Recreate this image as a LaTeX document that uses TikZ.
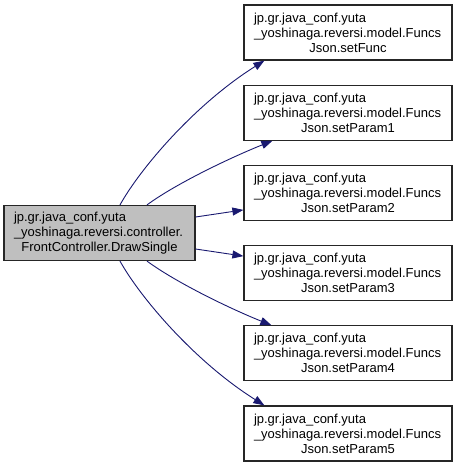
\documentclass[tikz,border=0pt]{standalone}
\usepackage{fontspec}
\setmainfont{Liberation Sans}
\usetikzlibrary{arrows.meta,positioning}
\definecolor{edgeblue}{HTML}{191970}
\definecolor{grayfill}{HTML}{BFBFBF}

\begin{document}
\begin{tikzpicture}[x=1pt, y=-1pt, node distance=24pt, every node/.style={font=\fontsize{13}{15}\selectfont}, box/.style={draw=black!85, line width=1.2pt, fill=white, minimum height=55pt, inner xsep=10pt, align=left}, callee/.style={box, text width=188pt}, arr/.style={-{Triangle[length=11pt,width=8pt]}, line width=0.9pt, edgeblue}]
\useasboundingbox (0,0) rectangle (457,467);
\node[box, fill=grayfill, text width=171pt] (drawsingle) at (99.5,233) {jp.gr.java\_conf.yuta\\\_yoshinaga.reversi.controller.\\\makebox[\linewidth]{FrontController.DrawSingle}};
\node[callee] (func) at (348,32.5) {jp.gr.java\_conf.yuta\\\_yoshinaga.reversi.model.Funcs\\\makebox[\linewidth]{Json.setFunc}};
\node[callee, below=of func] (param1) {jp.gr.java\_conf.yuta\\\_yoshinaga.reversi.model.Funcs\\\makebox[\linewidth]{Json.setParam1}};
\node[callee, below=of param1] (param2) {jp.gr.java\_conf.yuta\\\_yoshinaga.reversi.model.Funcs\\\makebox[\linewidth]{Json.setParam2}};
\node[callee, below=of param2] (param3) {jp.gr.java\_conf.yuta\\\_yoshinaga.reversi.model.Funcs\\\makebox[\linewidth]{Json.setParam3}};
\node[callee, below=of param3] (param4) {jp.gr.java\_conf.yuta\\\_yoshinaga.reversi.model.Funcs\\\makebox[\linewidth]{Json.setParam4}};
\node[callee, below=of param4] (param5) {jp.gr.java\_conf.yuta\\\_yoshinaga.reversi.model.Funcs\\\makebox[\linewidth]{Json.setParam5}};
\draw[arr] ([xshift=20.5pt]drawsingle.north) .. controls +(20,-36) and +(-70,44) .. ([xshift=21pt]func.south west);
\draw[arr] ([xshift=47.5pt]drawsingle.north) .. controls +(30,-22) and +(-40,16) .. ([xshift=29pt]param1.south west);
\draw[arr] ([yshift=16pt]drawsingle.east) -- ([yshift=-17pt]param2.west);
\draw[arr] ([yshift=-16pt]drawsingle.east) -- ([yshift=17pt]param3.west);
\draw[arr] ([xshift=47.5pt]drawsingle.south) .. controls +(30,22) and +(-40,-16) .. ([xshift=28pt]param4.north west);
\draw[arr] ([xshift=20.5pt]drawsingle.south) .. controls +(20,36) and +(-70,-44) .. ([xshift=21pt]param5.north west);
\end{tikzpicture}
\end{document}
